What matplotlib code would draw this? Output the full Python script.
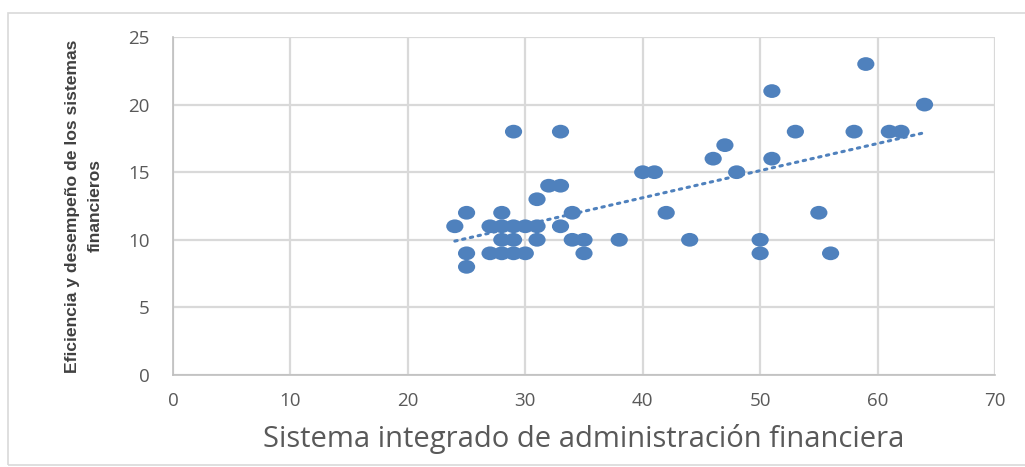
import numpy as np
import matplotlib.pyplot as plt
from matplotlib.markers import MarkerStyle
from matplotlib.transforms import Affine2D
from matplotlib.patches import Rectangle

# datos
sistema = [24, 25, 25, 25, 27, 27, 28, 28, 28, 28, 29, 29, 29, 29, 30, 30,
           31, 31, 31, 32, 33, 33, 33, 34, 34, 35, 35, 38, 40, 41, 42, 44,
           46, 47, 48, 50, 50, 51, 51, 53, 55, 56, 58, 59, 61, 62, 64]
eficiencia = [11, 12, 9, 8, 11, 9, 12, 11, 10, 9, 18, 11, 10, 9, 11, 9,
              13, 11, 10, 14, 14, 18, 11, 12, 10, 10, 9, 10, 15, 15, 12, 10,
              16, 17, 15, 10, 9, 21, 16, 18, 12, 9, 18, 23, 18, 18, 20]
xticks = [0, 10, 20, 30, 40, 50, 60, 70]
yticks = [0, 5, 10, 15, 20, 25]

azul = "#4F81BD"
gris = "#595959"

fig = plt.figure(figsize=(10.25, 4.67), dpi=100)
ax = fig.add_axes([173/1025, 1-375/467, (995-173)/1025, (375-37)/467])

# marco exterior del grafico
fig.patches.append(Rectangle((8/1025, 2/467), 1.1, 452/467, transform=fig.transFigure,
                             fill=False, edgecolor="#d9d9d9", linewidth=1.2))

x = np.array(sistema)
y = np.array(eficiencia)
m, b = np.polyfit(x, y, 1)
xl = np.array([x.min(), x.max()])
ax.plot(xl, m*xl + b, linestyle=(0, (0.8, 1.8)), color=azul, linewidth=2.2,
        dash_capstyle="round", zorder=2)

elipse = MarkerStyle("o", transform=Affine2D().scale(1.25, 1.0))
ax.scatter(x, y, marker=elipse, s=98, color=azul, edgecolors="none", zorder=3)

ax.set_xlim(0, 70)
ax.set_ylim(0, 25)
ax.set_xticks(xticks)
ax.set_yticks(yticks)
ax.grid(True, color="#d9d9d9", linewidth=1.6)
ax.set_axisbelow(True)
ax.tick_params(length=0, labelsize=13.5, labelcolor=gris)
ax.tick_params(axis="y", pad=17)
ax.tick_params(axis="x", pad=12)
for lab in ax.get_xticklabels() + ax.get_yticklabels():
    lab.set_fontfamily("Open Sans")
for s in ["top", "right"]:
    ax.spines[s].set_visible(False)
for s in ["left", "bottom"]:
    ax.spines[s].set_color("#bfbfbf")
    ax.spines[s].set_linewidth(1.2)

ax.set_xlabel("Sistema integrado de administración financiera", fontsize=21,
              color=gris, family="Open Sans", labelpad=10)
ax.set_ylabel("Eficiencia y desempeño de los sistemas\nfinancieros", fontsize=12.6,
              fontweight="bold", color="#404040", family="Liberation Sans",
              linespacing=1.6)
ax.yaxis.set_label_coords(-0.086, 0.5)

fig.savefig("out.png", dpi=100)
